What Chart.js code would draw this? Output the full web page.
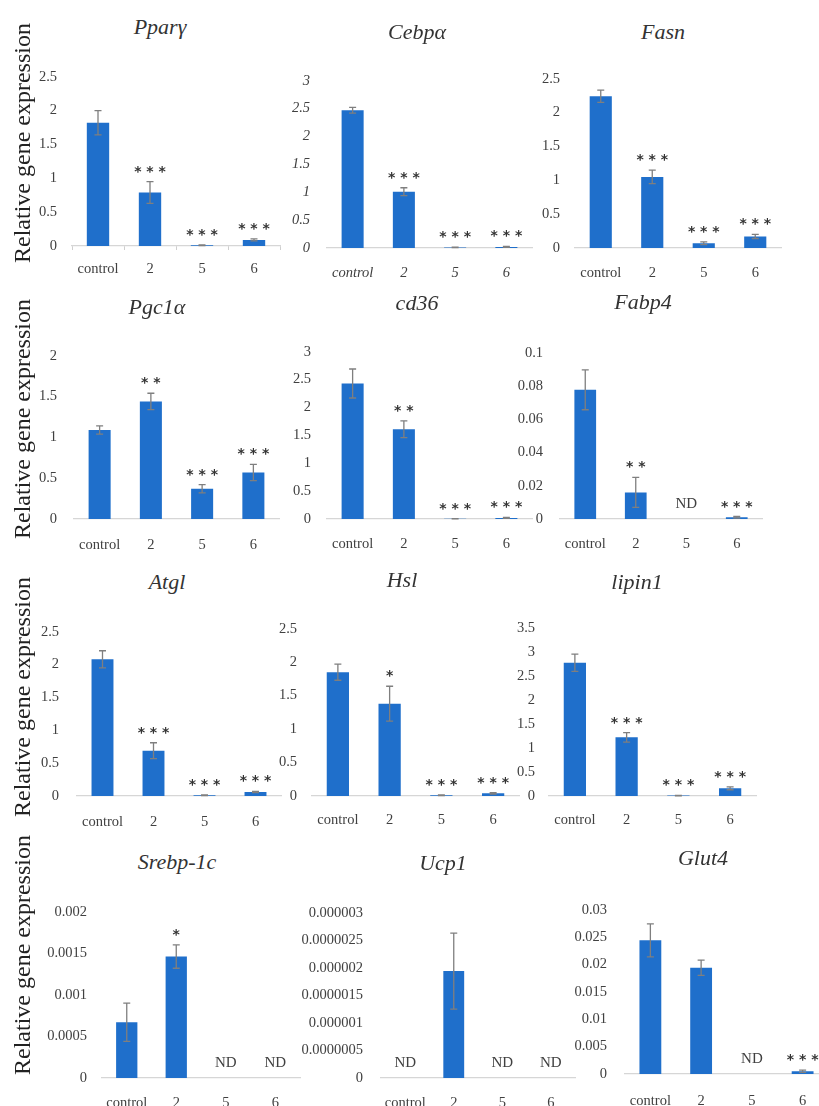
<!DOCTYPE html>
<html><head><meta charset="utf-8">
<script src="https://cdn.jsdelivr.net/npm/chart.js@4.4.1/dist/chart.umd.min.js"></script>
<style>
html,body{margin:0;padding:0;background:#fff;overflow:hidden;}
#wrap{position:relative;width:819px;height:1106px;overflow:hidden;background:#fff;}
#wrap canvas{position:absolute;}
.title{position:absolute;font-family:'Liberation Serif',serif;font-style:italic;font-size:22px;color:#333;transform:translate(-50%,-50%);white-space:nowrap;}
.ytitle{position:absolute;font-family:'Liberation Serif',serif;font-size:24px;color:#222;white-space:nowrap;transform:translate(-50%,-50%) rotate(-90deg);}
</style></head>
<body><div id="wrap"></div>
<script>
// ---------- DATA ----------
const categories = ['control', '2', '5', '6'];
const yAxisTitle = 'Relative gene expression';

const ppargMean = [1.82, 0.79, 0.01, 0.09];
const ppargErr  = [0.18, 0.16, 0.005, 0.015];
const ppargSig  = ['', '***', '***', '***'];
const ppargTicks = ['0', '0.5', '1', '1.5', '2', '2.5'];

const cebpaMean = [2.47, 1.01, 0.01, 0.02];
const cebpaErr  = [0.05, 0.07, 0.005, 0.01];
const cebpaSig  = ['', '***', '***', '***'];
const cebpaTicks = ['0', '0.5', '1', '1.5', '2', '2.5', '3'];

const fasnMean = [2.24, 1.05, 0.07, 0.17];
const fasnErr  = [0.09, 0.10, 0.02, 0.03];
const fasnSig  = ['', '***', '***', '***'];
const fasnTicks = ['0', '0.5', '1', '1.5', '2', '2.5'];

const pgc1aMean = [1.09, 1.44, 0.37, 0.57];
const pgc1aErr  = [0.05, 0.10, 0.05, 0.10];
const pgc1aSig  = ['', '**', '***', '***'];
const pgc1aTicks = ['0', '0.5', '1', '1.5', '2'];

const cd36Mean = [2.43, 1.61, 0.005, 0.02];
const cd36Err  = [0.26, 0.15, 0.003, 0.01];
const cd36Sig  = ['', '**', '***', '***'];
const cd36Ticks = ['0', '0.5', '1', '1.5', '2', '2.5', '3'];

const fabp4Mean = [0.0777, 0.016, null, 0.001];
const fabp4Err  = [0.012, 0.009, null, 0.0005];
const fabp4Sig  = ['', '**', 'ND', '***'];
const fabp4Ticks = ['0', '0.02', '0.04', '0.06', '0.08', '0.1'];

const atglMean = [2.08, 0.69, 0.01, 0.06];
const atglErr  = [0.13, 0.12, 0.005, 0.01];
const atglSig  = ['', '***', '***', '***'];
const atglTicks = ['0', '0.5', '1', '1.5', '2', '2.5'];

const hslMean = [1.85, 1.38, 0.01, 0.04];
const hslErr  = [0.12, 0.26, 0.005, 0.01];
const hslSig  = ['', '*', '***', '***'];
const hslTicks = ['0', '0.5', '1', '1.5', '2', '2.5'];

const lipin1Mean = [2.77, 1.22, 0.01, 0.16];
const lipin1Err  = [0.18, 0.10, 0.005, 0.03];
const lipin1Sig  = ['', '***', '***', '***'];
const lipin1Ticks = ['0', '0.5', '1', '1.5', '2', '2.5', '3', '3.5'];

const srebpMean = [0.00067, 0.00146, null, null];
const srebpErr  = [0.00023, 0.00014, null, null];
const srebpSig  = ['', '*', 'ND', 'ND'];
const srebpTicks = ['0', '0.0005', '0.001', '0.0015', '0.002'];

const ucp1Mean = [null, 0.00000194, null, null];
const ucp1Err  = [null, 0.00000069, null, null];
const ucp1Sig  = ['ND', '', 'ND', 'ND'];
const ucp1Ticks = ['0', '0.0000005', '0.000001', '0.0000015', '0.000002', '0.0000025', '0.000003'];

const glut4Mean = [0.0244, 0.0194, null, 0.0005];
const glut4Err  = [0.0030, 0.0014, null, 0.0002];
const glut4Sig  = ['', '', 'ND', '***'];
const glut4Ticks = ['0', '0.005', '0.01', '0.015', '0.02', '0.025', '0.03'];

// ---------- LAYOUT / STYLE ----------
const BAR = '#1f6fcb';
const TXT = '#404040';
const FONT = "'Liberation Serif', serif";

const panels = [
  {title:'Pparγ',   mean:ppargMean,  err:ppargErr,  sig:ppargSig,  ticks:ppargTicks,  xL:72,  xR:280, yT:65,  yB:246,  lr:57,  ldy:23, tx:160, ty:27, tickMarks:true},
  {title:'Cebpα',   mean:cebpaMean,  err:cebpaErr,  sig:cebpaSig,  ticks:cebpaTicks,  xL:327, xR:532, yT:67,  yB:248,  lr:310, ldy:25, tx:417, ty:32, italic:true},
  {title:'Fasn',    mean:fasnMean,   err:fasnErr,   sig:fasnSig,   ticks:fasnTicks,   xL:575, xR:781, yT:67,  yB:248,  lr:560, ldy:25, tx:663, ty:32},
  {title:'Pgc1α',   mean:pgc1aMean,  err:pgc1aErr,  sig:pgc1aSig,  ticks:pgc1aTicks,  xL:74,  xR:279, yT:342, yB:519,  lr:57,  ldy:26, tx:157, ty:307},
  {title:'cd36',    mean:cd36Mean,   err:cd36Err,   sig:cd36Sig,   ticks:cd36Ticks,   xL:327, xR:532, yT:339, yB:519,  lr:311, ldy:25, tx:417, ty:303},
  {title:'Fabp4',   mean:fabp4Mean,  err:fabp4Err,  sig:fabp4Sig,  ticks:fabp4Ticks,  xL:560, xR:762, yT:339, yB:519,  lr:543, ldy:25, tx:643, ty:302},
  {title:'Atgl',    mean:atglMean,   err:atglErr,   sig:atglSig,   ticks:atglTicks,   xL:77,  xR:281, yT:617, yB:796,  lr:59,  ldy:26, tx:167, ty:582},
  {title:'Hsl',     mean:hslMean,    err:hslErr,    sig:hslSig,    ticks:hslTicks,    xL:312, xR:519, yT:617, yB:796,  lr:297, ldy:24, tx:402, ty:580},
  {title:'lipin1',  mean:lipin1Mean, err:lipin1Err, sig:lipin1Sig, ticks:lipin1Ticks, xL:549, xR:756, yT:617, yB:796,  lr:535, ldy:24, tx:637, ty:582},
  {title:'Srebp-1c',mean:srebpMean,  err:srebpErr,  sig:srebpSig,  ticks:srebpTicks,  xL:102, xR:300, yT:900, yB:1078, lr:87,  ldy:25, tx:177, ty:862},
  {title:'Ucp1',    mean:ucp1Mean,   err:ucp1Err,   sig:ucp1Sig,   ticks:ucp1Ticks,   xL:381, xR:575, yT:898, yB:1078, lr:363, ldy:25, tx:443, ty:863},
  {title:'Glut4',   mean:glut4Mean,  err:glut4Err,  sig:glut4Sig,  ticks:glut4Ticks,  xL:625, xR:828, yT:895, yB:1074, lr:607, ldy:27, tx:703, ty:858}
];
const yTitleCenters = [143, 419, 697, 955];

const wrap = document.getElementById('wrap');

const errPlugin = {
  id: 'errbars',
  afterDatasetsDraw(chart) {
    const ctx = chart.ctx, ds = chart.data.datasets[0];
    const ys = chart.scales.y, xs = chart.scales.x;
    const y0 = ys.getPixelForValue(0);
    ctx.save();
    for (let i = 0; i < ds.data.length; i++) {
      const m = ds.data[i], e = ds.errors[i], s = ds.sig[i];
      const x = xs.getPixelForValue(i);
      let topPix = y0;
      if (m != null) {
        const hi = ys.getPixelForValue(m + e);
        const lo = ys.getPixelForValue(Math.max(0, m - e));
        ctx.strokeStyle = '#7f7f7f';
        ctx.lineWidth = 1.3;
        ctx.beginPath();
        ctx.moveTo(x, lo); ctx.lineTo(x, hi);
        ctx.moveTo(x - 3.5, hi); ctx.lineTo(x + 3.5, hi);
        ctx.moveTo(x - 3.5, lo); ctx.lineTo(x + 3.5, lo);
        ctx.stroke();
        topPix = Math.min(hi, ys.getPixelForValue(m));
      }
      if (s === 'ND') {
        ctx.fillStyle = TXT;
        ctx.font = "15px " + FONT;
        ctx.textAlign = 'center';
        ctx.textBaseline = 'middle';
        ctx.fillText('ND', x, y0 - 15);
      } else if (s) {
        ctx.fillStyle = '#333';
        ctx.font = "bold 14px 'DejaVu Sans', sans-serif";
        ctx.textAlign = 'center';
        ctx.textBaseline = 'alphabetic';
        ctx.fillText(s.split('').join(' '), x, topPix - 6);
      }
    }
    ctx.restore();
  }
};

function makeChart(p) {
  const Wy = 110, Hx = 50, padT = 12, padR = 4;
  const left = p.xL - Wy, top = p.yT - padT;
  const w = Wy + (p.xR - p.xL) + padR, h = padT + (p.yB - p.yT) + Hx;
  const c = document.createElement('canvas');
  c.width = w; c.height = h;
  c.style.left = left + 'px'; c.style.top = top + 'px';
  c.style.width = w + 'px'; c.style.height = h + 'px';
  wrap.appendChild(c);
  const tickVals = p.ticks.map(Number);
  const tl = p.tickMarks ? 4 : 0;
  const tickFont = {family: FONT, size: 14.5, style: p.italic ? 'italic' : 'normal'};
  new Chart(c, {
    type: 'bar',
    data: {
      labels: categories,
      datasets: [{
        data: p.mean, errors: p.err, sig: p.sig,
        backgroundColor: BAR, borderWidth: 0,
        barPercentage: 0.43, categoryPercentage: 1
      }]
    },
    options: {
      responsive: false, animation: false, devicePixelRatio: 1,
      layout: {padding: {top: padT, right: padR, left: 0, bottom: 0}},
      plugins: {legend: {display: false}, tooltip: {enabled: false}, title: {display: false}},
      scales: {
        x: {
          grid: {display: !!p.tickMarks, drawOnChartArea: false, drawTicks: !!p.tickMarks, tickLength: 4, color: '#cfcfcf'},
          border: {display: true, color: '#d6d6d6', width: 1.2},
          ticks: {padding: p.ldy - 8.7 - tl, font: tickFont, color: TXT, maxRotation: 0, autoSkip: false},
          afterFit(s) { s.height = Hx; }
        },
        y: {
          min: 0, max: tickVals[tickVals.length - 1],
          grid: {display: false, drawTicks: false},
          border: {display: false},
          ticks: {padding: p.xL - p.lr, font: tickFont, color: TXT,
                  callback: (v, i) => p.ticks[i]},
          afterBuildTicks(s) { s.ticks = tickVals.map(v => ({value: v})); },
          afterFit(s) { s.width = Wy; }
        }
      }
    },
    plugins: [errPlugin]
  });
  const t = document.createElement('div');
  t.className = 'title';
  t.textContent = p.title;
  t.style.left = p.tx + 'px'; t.style.top = p.ty + 'px';
  wrap.appendChild(t);
}

panels.forEach(makeChart);
yTitleCenters.forEach(cy => {
  const d = document.createElement('div');
  d.className = 'ytitle';
  d.textContent = yAxisTitle;
  d.style.left = '22px'; d.style.top = cy + 'px';
  wrap.appendChild(d);
});
</script>
</body></html>
